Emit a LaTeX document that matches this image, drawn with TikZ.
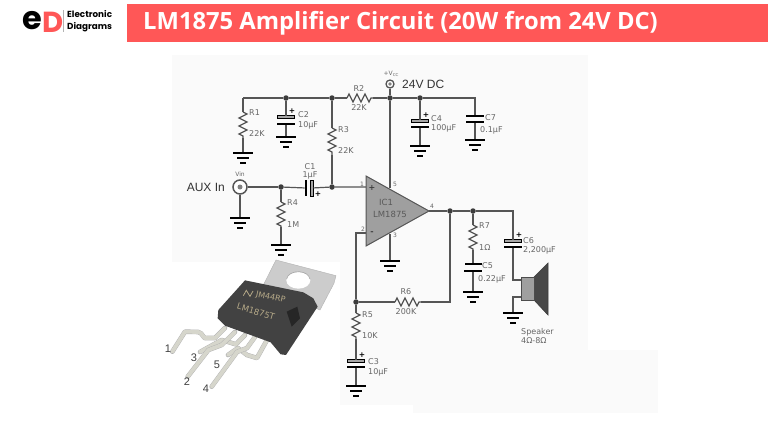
\documentclass[tikz,border=0pt]{standalone}
\usepackage{fontspec}
\usepackage{tikz}
\usetikzlibrary{decorations.pathmorphing}
\newfontfamily\labelfont{DejaVu Sans}
\newfontfamily\titlefont{Open Sans}
\newfontfamily\logofont{Poppins}
\newfontfamily\notefont{Liberation Sans}
\definecolor{banner}{HTML}{FF5757}
\definecolor{wirec}{HTML}{555555}
\definecolor{labelc}{HTML}{666666}
\definecolor{panelc}{HTML}{FAFAFA}
\definecolor{legc}{HTML}{D6D6CC}
\definecolor{inkc}{HTML}{B5A988}
% ground symbol: name, x, y
\newcommand{\gnd}[3]{
\node[bar,minimum width=20] (#1) at (#2,#3) {};
\node[bar,minimum width=12] (#1b) at (#2,#3+5) {};
\node[bar,minimum width=6] (#1c) at (#2,#3+10) {};
}
% capacitor plates: name, x, y of first plate, y of second, first plate style
\newcommand{\capv}[5]{
\node[#5] (#1a) at (#2,#3) {};
\node[bar,minimum width=18] (#1b) at (#2,#4) {};
}
\begin{document}
\begin{tikzpicture}[x=1pt,y=-1pt]
\tikzstyle{wire}=[draw=wirec,line width=1.2]
\tikzstyle{res}=[wire,decorate,decoration={zigzag,segment length=8,amplitude=4}]
\tikzstyle{dot}=[circle,fill=wirec!70!black,inner sep=0,minimum size=5.5]
\tikzstyle{bar}=[rectangle,fill=black,inner sep=0,outer sep=0,minimum height=2.6]
\tikzstyle{pol}=[rectangle,fill=gray!70,draw=black,line width=.7,inner sep=0,outer sep=0,minimum width=17,minimum height=2.8]
\tikzstyle{lab}=[font=\labelfont\fontsize{8}{9}\selectfont,text=labelc,inner sep=0,anchor=west]
\tikzstyle{pinno}=[font=\notefont\fontsize{11}{12}\selectfont,text=black!75,inner sep=0]
\tikzstyle{leg}=[draw=gray!60,double=legc,double distance=3.8,line width=.4,line join=round,line cap=round]

\useasboundingbox (0,0) rectangle (768,432);
\fill[white] (0,0) rectangle (768,432);
\fill[panelc] (172,55) rectangle (588,405);
\fill[panelc] (413,350) rectangle (658,413);
\fill[white] (172,262) rectangle (340,405);

% header
\fill[banner] (127,4) rectangle (768,42);
\node[font=\titlefont\bfseries\fontsize{23.75}{26}\selectfont,text=white,inner sep=0,anchor=west] (title) at (143,23) {LM1875 Amplifier Circuit (20W from 24V DC)};
\node[font=\logofont\bfseries\fontsize{32}{32}\selectfont,inner sep=0] (loge) at (32,21) {e};
\node[font=\logofont\bfseries\fontsize{29}{30}\selectfont,text=banner,inner sep=0] (logd) at (53,22) {D};
\fill[gray!60] (63,10) rectangle (63.7,32);
\node[font=\logofont\bfseries\fontsize{8.8}{9}\selectfont,inner sep=0,anchor=west] (logt) at (67,14.5) {Electronic};
\node[font=\logofont\bfseries\fontsize{8.8}{9}\selectfont,inner sep=0,anchor=west] (logu) at (67,27.5) {Diagrams};

% junctions
\node[dot] (j1) at (286,98) {};
\node[dot] (j2) at (332,98) {};
\node[dot] (j3) at (390,98) {};
\node[dot] (j4) at (420,98) {};
\node[dot] (j5) at (281,187) {};
\node[dot] (j6) at (332,187) {};
\node[dot] (j7) at (450,211) {};
\node[dot] (j8) at (473,211) {};
\node[dot] (j9) at (356,302) {};
\coordinate (cr1) at (243,98);
\coordinate (cr7) at (475,98);
\coordinate (cin) at (366,187);
\coordinate (cneg) at (366,233);
\coordinate (cneg2) at (356,233);
\coordinate (cout) at (429,211);
\coordinate (cp5) at (390,188);
\coordinate (cp3) at (390,234);
\coordinate (cr6) at (450,302);
\coordinate (cc6) at (513,211);
\coordinate (cs1) at (513,280);
\coordinate (cs2) at (521,280);
\coordinate (cs3) at (521,297);
\coordinate (cs4) at (513,297);

% resistors
\coordinate (r1a) at (243,112); \coordinate (r1b) at (243,138);
\coordinate (r2a) at (347,98); \coordinate (r2b) at (373,98);
\coordinate (r3a) at (332,128); \coordinate (r3b) at (332,155);
\coordinate (r4a) at (281,202); \coordinate (r4b) at (281,227);
\coordinate (r5a) at (356,313); \coordinate (r5b) at (356,339);
\coordinate (r6a) at (395,302); \coordinate (r6b) at (421,302);
\coordinate (r7a) at (473,225); \coordinate (r7b) at (473,250);
\foreach \r in {r1,r2,r3,r4,r5,r6,r7}
\draw[res] (\r a) -- (\r b);

% capacitors
\capv{c2}{286}{117}{124}{pol}
\capv{c3}{356}{361}{367}{pol}
\capv{c4}{420}{121}{127}{pol}
\capv{c5}{473}{264}{271}{bar,minimum width=17}
\capv{c6}{513}{241}{247}{pol}
\capv{c7}{475}{116}{122}{bar,minimum width=18}
\node[bar,minimum width=2.8,minimum height=16] (c1a) at (306,188) {};
\node[pol,minimum width=3,minimum height=16] (c1b) at (312,188) {};

% grounds
\gnd{g1}{243}{153}
\gnd{g2}{286}{137}
\gnd{g3}{356}{386}
\gnd{g4}{420}{146}
\gnd{g5}{473}{292}
\gnd{g6}{513}{313}
\gnd{g7}{475}{140}
\gnd{g8}{240}{218}
\gnd{g9}{281}{245}
\gnd{g10}{390}{261}

% connectors
\draw[wire] (cr1) -- (j1) -- (j2) -- (r2a);
\draw[wire] (r2b) -- (j3) -- (j4) -- (cr7) -- (c7a);
\draw[wire] (cr1) -- (r1a);
\draw[wire] (r1b) -- (g1);
\draw[wire] (j1) -- (c2a);
\draw[wire] (c2b) -- (g2);
\draw[wire] (j2) -- (r3a);
\draw[wire] (r3b) -- (j6);
\draw[wire] (j4) -- (c4a);
\draw[wire] (c4b) -- (g4);
\draw[wire] (c7b) -- (g7);
\draw[wire] (j3) -- (cp5);
\draw[wire] (j5) -- (c1a);
\draw[wire] (c1b) -- (j6) -- (cin);
\draw[wire] (j5) -- (r4a);
\draw[wire] (r4b) -- (g9);
\draw[wire] (cneg) -- (cneg2) -- (j9) -- (r6a);
\draw[wire] (r6b) -- (cr6) -- (j7);
\draw[wire] (j9) -- (r5a);
\draw[wire] (r5b) -- (c3a);
\draw[wire] (c3b) -- (g3);
\draw[wire] (cout) -- (j7) -- (j8) -- (cc6) -- (c6a);
\draw[wire] (c6b) -- (cs1) -- (cs2);
\draw[wire] (cs3) -- (cs4) -- (g6);
\draw[wire] (j8) -- (r7a);
\draw[wire] (r7b) -- (c5a);
\draw[wire] (c5b) -- (g5);
\draw[wire] (cp3) -- (g10);

% connectors at the ends
\node[circle,draw=wirec,fill=white,line width=1.3,minimum size=8,inner sep=0] (vcc) at (390,84) {};
\fill[gray] (vcc) circle (1.8);
\draw[wire] (vcc) -- (j3);
\node[circle,draw=wirec,fill=white,line width=1.5,minimum size=14,inner sep=0] (vin) at (240,187) {};
\fill[gray] (vin) circle (2.5);
\draw[wire] (vin) -- (j5);
\draw[wire] (vin) -- (g8);

% amplifier
\coordinate (ia) at (366,176);
\coordinate (ib) at (366,246);
\draw[wire,fill=gray!75,line width=1] (ia) -- (cout) -- (ib) -- cycle;
\node[lab,anchor=center,font=\labelfont\fontsize{8.5}{9}\selectfont,text=black!65] (ic1) at (386,202) {IC1};
\node[lab,anchor=center,font=\labelfont\fontsize{8.5}{9}\selectfont,text=black!65] (ic2) at (390,214) {LM1875};
\node[lab,anchor=center,font=\labelfont\bfseries\fontsize{8}{8}\selectfont,text=black!75] (ipl) at (372,188) {+};
\node[lab,anchor=center,font=\labelfont\bfseries\fontsize{8}{8}\selectfont,text=black!75] (imi) at (372,233) {-};
\tikzstyle{pinlab}=[lab,anchor=center,font=\labelfont\fontsize{6}{6}\selectfont]
\node[pinlab] (p1) at (362,184) {1};
\node[pinlab] (p2) at (363,229) {2};
\node[pinlab] (p3) at (395,235) {3};
\node[pinlab] (p4) at (432,206) {4};
\node[pinlab] (p5) at (395,184) {5};

% speaker
\coordinate (sp1) at (534,277);
\coordinate (sp2) at (548,263);
\coordinate (sp3) at (548,315);
\coordinate (sp4) at (534,300);
\draw[wirec!70!black,fill=wirec!85!black,line width=.6] (sp1) -- (sp2) -- (sp3) -- (sp4) -- cycle;
\node[rectangle,draw=black!70,fill=gray!75,line width=1,minimum width=13,minimum height=23,inner sep=0,anchor=north west] (spk) at (521,277) {};

% labels
\node[lab] (lr1) at (249,113) {R1};
\node[lab] (lr1v) at (249,134) {22K};
\node[lab,anchor=center] (lr2) at (359,89) {R2};
\node[lab,anchor=center] (lr2v) at (359,108) {22K};
\node[lab] (lr3) at (338,130) {R3};
\node[lab] (lr3v) at (338,151) {22K};
\node[lab] (lr4) at (287,203) {R4};
\node[lab] (lr4v) at (287,225) {1M};
\node[lab] (lr5) at (362,315) {R5};
\node[lab] (lr5v) at (362,336) {10K};
\node[lab,anchor=center] (lr6) at (406,292) {R6};
\node[lab,anchor=center] (lr6v) at (406,312) {200K};
\node[lab] (lr7) at (479,226) {R7};
\node[lab] (lr7v) at (479,248) {1Ω};
\node[lab] (lc2) at (298,115) {C2};
\node[lab] (lc2v) at (298,125) {10µF};
\node[lab,anchor=center] (lc1) at (310,167) {C1};
\node[lab,anchor=center] (lc1v) at (310,175) {1µF};
\node[lab] (lc3) at (368,362) {C3};
\node[lab] (lc3v) at (368,372) {10µF};
\node[lab] (lc4) at (431,119) {C4};
\node[lab] (lc4v) at (431,128) {100µF};
\node[lab] (lc5) at (482,266) {C5};
\node[lab] (lc5v) at (478,279) {0.22µF};
\node[lab] (lc6) at (523,241) {C6};
\node[lab] (lc6v) at (523,250) {2,200µF};
\node[lab] (lc7) at (485,118) {C7};
\node[lab] (lc7v) at (480,130) {0.1µF};
\node[lab] (lsp) at (521,332) {Speaker};
\node[lab] (lspv) at (521,341) {4Ω-8Ω};
\node[lab,anchor=center,font=\labelfont\fontsize{6}{6}\selectfont] (lvin) at (240,174) {Vin};
\node[lab,anchor=center,font=\labelfont\fontsize{6}{6}\selectfont] (lvcc) at (391,74) {+V\raisebox{-1pt}{\fontsize{4}{4}\selectfont CC}};
\tikzstyle{plus}=[lab,anchor=center,font=\labelfont\bfseries\fontsize{7.5}{8}\selectfont,text=black]
\node[plus] (pc1) at (318,194) {+};
\node[plus] (pc2) at (292,111) {+};
\node[plus] (pc3) at (362,355) {+};
\node[plus] (pc4) at (426,115) {+};
\node[plus] (pc6) at (519,235) {+};
\node[font=\notefont\fontsize{12}{13}\selectfont,text=black!80,inner sep=0,anchor=west] (dc) at (402,84) {24V DC};
\node[font=\notefont\fontsize{12}{13}\selectfont,text=black!80,inner sep=0,anchor=east] (aux) at (225,187) {AUX In};

% photo of the part
\begin{scope}[shift={(150,255)},x=.3333pt,y=-.3333pt]
\fill[black!20!white,draw=black!30!white,line width=.4] (378,15) -- (558,62) -- (552,85) -- (510,165) -- (340,90) -- cycle;
\fill[white] (445,76) ellipse (36 and 25);
\draw[black!35!white,line width=.6] (410,72) arc (185:355:35 and 24);
% legs behind the body
\draw[leg] (225,219) -- (195,249) -- (171,249) to[out=220,in=0] (145,231) -- (105,230) -- (67,290);
\draw[leg] (285,240) -- (258,268) -- (215,255) -- (150,291);
\draw[leg] (255,231) -- (215,270) -- (175,285) -- (113,365);
\draw[leg] (351,255) -- (321,309) -- (291,300) -- (264,279) -- (234,300);
\draw[leg] (315,246) -- (291,279) -- (261,291) -- (185,395);
\fill[black!74!white] (285,76) -- (460,112) -- (490,130) -- (503,155) -- (408,300) -- (392,298) -- (362,262) -- (225,212) -- (203,190) -- (205,165) -- cycle;
\fill[black!85!white] (410,170) -- (442,155) -- (450,190) -- (425,215) -- cycle;
\draw[inkc,line width=.8] (280,122) -- (289,106) -- (300,124) -- (309,108);
\node[font=\labelfont\fontsize{8}{8}\selectfont,text=inkc,rotate=-12,inner sep=0] (jm) at (362,128) {JM44RP};
\node[font=\labelfont\fontsize{8.5}{8.5}\selectfont,text=inkc,rotate=-17,inner sep=0] (lmt) at (318,170) {LM1875T};
\end{scope}
\node[pinno] (n1) at (168,349) {1};
\node[pinno] (n3) at (194,358) {3};
\node[pinno] (n2) at (187,382) {2};
\node[pinno] (n5) at (217,365) {5};
\node[pinno] (n4) at (206,389) {4};
\end{tikzpicture}
\end{document}
